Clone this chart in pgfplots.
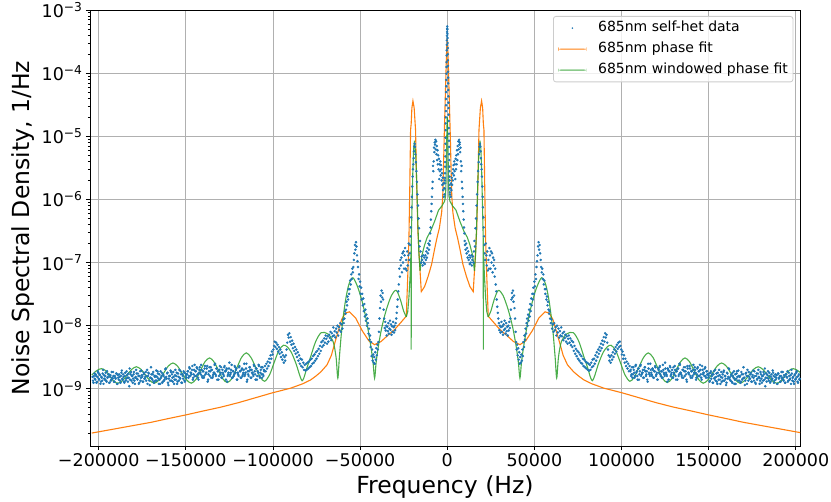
\documentclass[border=0pt]{standalone}
\usepackage{fontspec}
\setmainfont{DejaVu Sans}
\usepackage{pgfplots}
\pgfplotsset{compat=1.18}
\usepackage{pgfplotstable}
\definecolor{tabblue}{HTML}{1F77B4}
\definecolor{taborange}{HTML}{FF7F0E}
\definecolor{tabgreen}{HTML}{2CA02C}

% central spike of the data (both signs)
\pgfplotstableread{
f v
-1500 1.5e-6
-1450 1.8e-6
-1400 2.0e-6
-1350 2.2e-6
-1300 2.6e-6
-1250 3.3e-6
-1200 3.9e-6
-1150 4.8e-6
-1100 6.0e-6
-1050 7.6e-6
-1000 9.5e-6
-950 1.25e-5
-900 1.6e-5
-850 2.0e-5
-800 2.5e-5
-750 3.1e-5
-700 3.9e-5
-650 5.0e-5
-600 6.2e-5
-550 7.8e-5
-500 9.8e-5
-450 1.25e-4
-400 1.5e-4
-350 1.9e-4
-300 2.3e-4
-250 2.8e-4
-200 3.3e-4
-150 3.9e-4
-100 4.5e-4
-50 5.1e-4
0 5.5e-4
50 4.9e-4
100 4.2e-4
150 3.6e-4
200 3.0e-4
250 2.5e-4
300 2.0e-4
350 1.6e-4
400 1.3e-4
450 1.05e-4
500 8.5e-5
550 6.9e-5
600 5.4e-5
650 4.3e-5
700 3.4e-5
750 2.8e-5
800 2.2e-5
850 1.75e-5
900 1.35e-5
950 1.1e-5
1000 8.5e-6
1050 6.8e-6
1100 5.2e-6
1150 4.2e-6
1200 3.3e-6
1250 2.8e-6
1300 2.3e-6
1350 2.0e-6
1400 1.7e-6
1450 1.5e-6
1500 1.3e-6
}\cen

% data away from the centre (positive side, mirrored for negative side)
\pgfplotstableread{
f v
1600 1.2e-6
1800 1.5e-6
2000 1.1e-6
2200 1.8e-6
2400 1.4e-6
2600 2.2e-6
2800 1.7e-6
3000 2.6e-6
3200 2.0e-6
3400 3.0e-6
3600 3.5e-6
3800 2.4e-6
4000 4.0e-6
4200 2.8e-6
4400 3.6e-6
4600 2.1e-6
4800 4.4e-6
5000 3.0e-6
5200 5.0e-6
5400 3.6e-6
5600 6.0e-6
5800 4.2e-6
6000 7.0e-6
6200 5.2e-6
6400 8.3e-6
6600 6.2e-6
6800 8.8e-6
7000 7.4e-6
7200 8.0e-6
7400 5.6e-6
7600 6.6e-6
7800 4.0e-6
8000 2.8e-6
8200 3.4e-6
8400 1.9e-6
8600 1.5e-6
8800 1.1e-6
9000 8.5e-7
9200 6.5e-7
9400 4.8e-7
9600 3.6e-7
9800 2.9e-7
10000 2.2e-7
10200 1.9e-7
10500 1.6e-7
10800 2.0e-7
11100 1.4e-7
11400 1.7e-7
11700 1.2e-7
12000 1.5e-7
12300 1.1e-7
12600 1.3e-7
12900 9.5e-8
13200 1.2e-7
13500 1.0e-7
13800 1.3e-7
14100 9.0e-8
14400 1.1e-7
14700 1.25e-7
15000 1.0e-7
15300 1.5e-7
15600 2.2e-7
15900 1.8e-7
16200 3.5e-7
16500 5.0e-7
16800 8.0e-7
17100 1.2e-6
17400 1.9e-6
17700 2.8e-6
18000 3.9e-6
18300 5.2e-6
18500 6.8e-6
18700 7.6e-6
18900 6.9e-6
19100 5.8e-6
19300 4.5e-6
19500 3.6e-6
19700 3.0e-6
19900 2.3e-6
20100 1.6e-6
20300 1.1e-6
20500 7.5e-7
20700 5.2e-7
20900 3.6e-7
21100 2.6e-7
21300 1.9e-7
21500 1.4e-7
21800 1.1e-7
22100 2.0e-7
22400 1.3e-7
22700 9.0e-8
23000 1.5e-7
23300 7.5e-8
23600 1.1e-7
23900 8.0e-8
24200 1.7e-7
24500 1.3e-7
24800 8.0e-8
25100 1.5e-7
25400 1.0e-7
25700 1.4e-7
26000 7.0e-8
26300 1.2e-7
26600 9.0e-8
26900 1.1e-7
27200 6.0e-8
27500 8.0e-8
27800 4.5e-8
28100 3.5e-8
28400 2.6e-8
28700 2.0e-8
29000 1.6e-8
29300 1.3e-8
29600 1.1e-8
29900 8.5e-9
30200 1.0e-8
30500 7.8e-9
30800 9.5e-9
31100 1.15e-8
31400 8.0e-9
31700 9.8e-9
32000 7.2e-9
32300 1.05e-8
32600 8.6e-9
32900 1.2e-8
33200 9.0e-9
33500 7.5e-9
33800 1.1e-8
34100 8.2e-9
34400 9.6e-9
34700 7.0e-9
35000 1.0e-8
35300 8.4e-9
35600 1.15e-8
35900 9.2e-9
36200 1.3e-8
36500 1.8e-8
36800 2.6e-8
37100 3.3e-8
37400 2.8e-8
37700 3.6e-8
38000 2.4e-8
38300 3.0e-8
38600 1.9e-8
38900 1.3e-8
39200 8.0e-9
39500 5.5e-9
39800 4.2e-9
40100 5.0e-9
40400 3.4e-9
40700 4.4e-9
41000 2.9e-9
41300 3.8e-9
41600 2.5e-9
41900 3.2e-9
42200 2.6e-9
42500 3.5e-9
42800 2.8e-9
43100 4.2e-9
43400 3.3e-9
43700 5.5e-9
44000 4.6e-9
44300 7.0e-9
44600 6.0e-9
44900 9.0e-9
45200 7.5e-9
45500 1.1e-8
45800 1.3e-8
46100 1.0e-8
46400 1.5e-8
46700 1.2e-8
47000 1.8e-8
47300 1.4e-8
47600 2.2e-8
47900 1.7e-8
48200 2.7e-8
48500 2.1e-8
48800 3.2e-8
49100 2.6e-8
49400 4.0e-8
49700 3.2e-8
50000 5.0e-8
50300 4.2e-8
50600 6.5e-8
50900 5.5e-8
51200 8.5e-8
51500 1.05e-7
51800 1.3e-7
52100 1.8e-7
52400 2.1e-7
52700 1.6e-7
53000 1.9e-7
53300 1.4e-7
53600 1.1e-7
53900 8.5e-8
54200 7.0e-8
54500 8.0e-8
54800 5.5e-8
55100 6.5e-8
55400 4.5e-8
55700 5.2e-8
56000 3.8e-8
56300 3.2e-8
56600 3.8e-8
56900 2.6e-8
57200 2.9e-8
57500 2.1e-8
57800 2.4e-8
58100 1.8e-8
58400 1.55e-8
58700 1.7e-8
59000 1.3e-8
59400 1.1e-8
59800 1.25e-8
60200 9.0e-9
60600 1.05e-8
61000 8.0e-9
61400 1.1e-8
61800 8.5e-9
62200 9.5e-9
62600 7.0e-9
63000 1.0e-8
63400 7.8e-9
63800 9.0e-9
64200 6.5e-9
64600 8.2e-9
65000 7.0e-9
65400 9.4e-9
65800 6.8e-9
66200 7.6e-9
66600 5.9e-9
67000 8.0e-9
67400 6.4e-9
67800 7.2e-9
68200 5.6e-9
68600 6.8e-9
69000 5.2e-9
69400 6.2e-9
69800 7.0e-9
70200 5.4e-9
70600 6.3e-9
71000 4.9e-9
71400 5.8e-9
71800 4.6e-9
72200 5.5e-9
72600 4.0e-9
73000 4.8e-9
73400 3.6e-9
73800 4.3e-9
74200 3.3e-9
74600 4.0e-9
75000 3.0e-9
75400 3.8e-9
75800 2.8e-9
76200 3.5e-9
76600 2.6e-9
77000 3.3e-9
77400 2.5e-9
77800 3.0e-9
78200 2.3e-9
78600 2.9e-9
79000 2.2e-9
79400 2.7e-9
79800 2.1e-9
80200 2.6e-9
80600 2.0e-9
81000 2.5e-9
81400 1.95e-9
81800 2.4e-9
82200 2.0e-9
82600 2.6e-9
83000 2.2e-9
83400 2.9e-9
83800 2.3e-9
84200 3.0e-9
84600 2.5e-9
85000 3.4e-9
85400 2.8e-9
85800 3.8e-9
86200 3.2e-9
86600 4.2e-9
87000 3.6e-9
87400 4.6e-9
87800 4.0e-9
88200 5.2e-9
88600 4.4e-9
89000 5.8e-9
89400 5.0e-9
89800 6.6e-9
90200 5.6e-9
90600 7.6e-9
91000 6.5e-9
91400 7.2e-9
91800 5.4e-9
92200 4.2e-9
92600 3.4e-9
93000 2.8e-9
93400 3.2e-9
93800 2.6e-9
94200 3.4e-9
94600 2.9e-9
95000 3.8e-9
95400 3.2e-9
95800 4.2e-9
96200 3.6e-9
96600 4.6e-9
97000 3.9e-9
97400 5.0e-9
97800 4.3e-9
98200 5.4e-9
98600 4.6e-9
99000 5.6e-9
99400 4.8e-9
99800 4.2e-9
100200 3.5e-9
100600 3.9e-9
101000 3.0e-9
101400 3.4e-9
101800 2.6e-9
102200 3.0e-9
102600 2.3e-9
103000 2.7e-9
103400 2.1e-9
103800 2.5e-9
104200 1.9e-9
104600 2.3e-9
105000 1.9e-9
105500 1.6e-9
106000 2.2e-9
106500 1.7e-9
107000 2.0e-9
107500 1.5e-9
108000 2.3e-9
108500 1.8e-9
109000 1.6e-9
109500 2.1e-9
110000 1.4e-9
110500 1.9e-9
111000 2.4e-9
111500 1.7e-9
112000 1.8e-9
112500 1.5e-9
113000 2.0e-9
113500 2.2e-9
114000 1.6e-9
114500 1.9e-9
115000 1.3e-9
115500 2.1e-9
116000 1.7e-9
116500 2.5e-9
117000 1.8e-9
117500 1.6e-9
118000 2.0e-9
118500 1.5e-9
119000 1.9e-9
119500 2.2e-9
120000 1.7e-9
120500 1.4e-9
121000 2.1e-9
121500 1.8e-9
122000 2.3e-9
122500 1.6e-9
123000 1.9e-9
123500 1.5e-9
124000 2.0e-9
124500 1.7e-9
125000 2.6e-9
125500 1.8e-9
126000 1.6e-9
126500 2.1e-9
127000 1.4e-9
127500 1.9e-9
128000 2.2e-9
128500 1.7e-9
129000 2.0e-9
129500 1.5e-9
130000 1.8e-9
130500 2.3e-9
131000 1.6e-9
131500 1.9e-9
132000 1.4e-9
132500 2.1e-9
133000 1.7e-9
133500 2.4e-9
134000 1.8e-9
134500 1.6e-9
135000 2.0e-9
135500 1.5e-9
136000 1.9e-9
136500 2.2e-9
137000 1.7e-9
137500 1.3e-9
138000 2.1e-9
138500 1.8e-9
139000 2.3e-9
139500 1.6e-9
140000 1.9e-9
140500 1.5e-9
141000 2.0e-9
141500 1.7e-9
142000 2.2e-9
142500 1.8e-9
143000 1.5e-9
143500 2.1e-9
144000 1.6e-9
144500 1.9e-9
145000 2.4e-9
145500 1.7e-9
146000 1.4e-9
146500 2.0e-9
147000 1.8e-9
147500 1.6e-9
148000 2.2e-9
148500 1.5e-9
149000 1.9e-9
149500 1.7e-9
150000 1.6e-9
150500 1.3e-9
151000 1.8e-9
151500 1.45e-9
152000 1.7e-9
152500 1.25e-9
153000 1.9e-9
153500 1.5e-9
154000 1.35e-9
154500 1.75e-9
155000 1.2e-9
155500 1.6e-9
156000 2.0e-9
156500 1.4e-9
157000 1.55e-9
157500 1.3e-9
158000 1.7e-9
158500 1.85e-9
159000 1.35e-9
159500 1.6e-9
160000 1.15e-9
160500 1.8e-9
161000 1.45e-9
161500 2.1e-9
162000 1.5e-9
162500 1.35e-9
163000 1.7e-9
163500 1.25e-9
164000 1.6e-9
164500 1.9e-9
165000 1.4e-9
165500 1.2e-9
166000 1.75e-9
166500 1.55e-9
167000 1.95e-9
167500 1.35e-9
168000 1.6e-9
168500 1.3e-9
169000 1.7e-9
169500 1.45e-9
170000 2.2e-9
170500 1.5e-9
171000 1.35e-9
171500 1.8e-9
172000 1.2e-9
172500 1.6e-9
173000 1.85e-9
173500 1.45e-9
174000 1.7e-9
174500 1.3e-9
175000 1.55e-9
175500 1.95e-9
176000 1.35e-9
176500 1.6e-9
177000 1.2e-9
177500 1.75e-9
178000 1.45e-9
178500 2.0e-9
179000 1.5e-9
179500 1.35e-9
180000 1.7e-9
180500 1.25e-9
181000 1.6e-9
181500 1.85e-9
182000 1.4e-9
182500 1.1e-9
183000 1.75e-9
183500 1.5e-9
184000 1.9e-9
184500 1.35e-9
185000 1.6e-9
185500 1.3e-9
186000 1.7e-9
186500 1.45e-9
187000 1.8e-9
187500 1.25e-9
188000 1.55e-9
188500 1.4e-9
189000 1.65e-9
189500 1.2e-9
190000 1.75e-9
190500 1.5e-9
191000 1.3e-9
191500 1.6e-9
192000 1.45e-9
192500 1.85e-9
193000 1.35e-9
193500 1.55e-9
194000 1.25e-9
194500 1.7e-9
195000 1.5e-9
195500 1.3e-9
196000 1.8e-9
196500 1.4e-9
197000 1.65e-9
197500 2.0e-9
198000 1.35e-9
198500 1.55e-9
199000 1.2e-9
199500 1.7e-9
200000 1.45e-9
200500 1.9e-9
201000 1.3e-9
201500 1.6e-9
202000 1.4e-9
202500 1.75e-9
203000 1.25e-9
203500 1.55e-9
}\sid

% more bins of the broad floor (positive side, mirrored)
\pgfplotstableread{
f v
105250 2.0e-9
105750 1.7e-9
106250 1.5e-9
106750 2.2e-9
107250 1.8e-9
107750 1.6e-9
108250 2.4e-9
108750 1.9e-9
109250 1.4e-9
109750 2.1e-9
110250 1.7e-9
110750 2.3e-9
111250 1.6e-9
111750 1.8e-9
112250 2.0e-9
112750 1.5e-9
113250 2.2e-9
113750 1.9e-9
114250 1.7e-9
114750 1.4e-9
115250 2.5e-9
115750 1.8e-9
116250 1.6e-9
116750 2.0e-9
117250 1.7e-9
117750 2.1e-9
118250 1.5e-9
118750 1.9e-9
119250 2.3e-9
119750 1.6e-9
120250 1.8e-9
120750 1.4e-9
121250 2.0e-9
121750 2.2e-9
122250 1.7e-9
122750 1.9e-9
123250 1.5e-9
123750 2.4e-9
124250 1.8e-9
124750 1.6e-9
125250 2.1e-9
125750 1.7e-9
126250 1.3e-9
126750 2.0e-9
127250 1.9e-9
127750 2.3e-9
128250 1.6e-9
128750 1.8e-9
129250 1.5e-9
129750 2.2e-9
130250 1.7e-9
130750 2.0e-9
131250 1.4e-9
131750 1.9e-9
132250 2.1e-9
132750 1.6e-9
133250 2.5e-9
133750 1.8e-9
134250 1.7e-9
134750 1.5e-9
135250 2.0e-9
135750 2.2e-9
136250 1.6e-9
136750 1.9e-9
137250 1.4e-9
137750 2.3e-9
138250 1.8e-9
138750 1.7e-9
139250 2.1e-9
139750 1.5e-9
140250 1.9e-9
140750 1.6e-9
141250 2.4e-9
141750 1.8e-9
142250 2.0e-9
142750 1.4e-9
143250 1.7e-9
143750 2.2e-9
144250 1.9e-9
144750 1.6e-9
145250 2.0e-9
145750 1.5e-9
146250 2.3e-9
146750 1.7e-9
147250 1.8e-9
147750 2.1e-9
148250 1.6e-9
148750 1.9e-9
149250 1.7e-9
149750 1.5e-9
150250 1.75e-9
150750 1.35e-9
151250 1.9e-9
151750 1.6e-9
152250 1.25e-9
152750 1.7e-9
153250 1.45e-9
153750 2.0e-9
154250 1.55e-9
154750 1.3e-9
155250 1.8e-9
155750 1.4e-9
156250 1.65e-9
156750 1.2e-9
157250 1.85e-9
157750 1.5e-9
158250 1.35e-9
158750 1.95e-9
159250 1.6e-9
159750 1.45e-9
160250 1.25e-9
160750 1.75e-9
161250 1.55e-9
161750 2.05e-9
162250 1.4e-9
162750 1.6e-9
163250 1.3e-9
163750 1.8e-9
164250 1.5e-9
164750 1.2e-9
165250 1.7e-9
165750 1.45e-9
166250 1.9e-9
166750 1.35e-9
167250 1.6e-9
167750 1.55e-9
168250 1.25e-9
168750 1.85e-9
169250 1.4e-9
169750 1.7e-9
170250 1.5e-9
170750 1.15e-9
171250 1.75e-9
171750 1.6e-9
172250 2.0e-9
172750 1.35e-9
173250 1.55e-9
173750 1.45e-9
174250 1.8e-9
174750 1.3e-9
175250 1.65e-9
175750 1.5e-9
176250 1.9e-9
176750 1.25e-9
177250 1.6e-9
177750 1.4e-9
178250 1.75e-9
178750 1.55e-9
179250 1.2e-9
179750 1.85e-9
180250 1.45e-9
180750 1.6e-9
181250 1.35e-9
181750 1.7e-9
182250 2.1e-9
182750 1.5e-9
183250 1.3e-9
183750 1.65e-9
184250 1.45e-9
184750 1.8e-9
185250 1.25e-9
185750 1.55e-9
186250 1.4e-9
186750 1.95e-9
187250 1.6e-9
187750 1.35e-9
188250 1.7e-9
188750 1.5e-9
189250 1.2e-9
189750 1.75e-9
190250 1.45e-9
190750 1.6e-9
191250 1.3e-9
191750 1.85e-9
192250 1.5e-9
192750 1.4e-9
193250 1.65e-9
193750 1.25e-9
194250 1.7e-9
194750 1.55e-9
195250 1.9e-9
195750 1.35e-9
196250 1.6e-9
196750 1.45e-9
197250 1.2e-9
197750 1.75e-9
198250 1.5e-9
198750 1.3e-9
199250 1.65e-9
199750 1.4e-9
200250 1.8e-9
200750 1.55e-9
201250 1.25e-9
201750 1.7e-9
202250 1.45e-9
202750 1.6e-9
203250 1.35e-9
}\flo

% phase fit (positive side)
\pgfplotstableread{
f v
0 3.548e-4
250 2.818e-4
500 1.778e-4
800 8.913e-5
1100 4.467e-5
1400 2.239e-5
1700 1.122e-5
2000 5.012e-6
2300 2.239e-6
2600 1.122e-6
3200 6.310e-7
4500 3.548e-7
6000 2.399e-7
7300 1.622e-7
9000 9.333e-8
11000 6.026e-8
13000 4.169e-8
14900 3.467e-8
15900 1.0e-7
16900 3.311e-7
17600 1.995e-6
18200 1.259e-5
19000 2.818e-5
19700 3.631e-5
20300 2.818e-5
20700 1.585e-5
21050 1.259e-5
21500 1.585e-6
22000 2.344e-7
22600 6.918e-8
23500 1.413e-8
24500 1.318e-8
27000 1.096e-8
30200 8.710e-9
34000 7.079e-9
38000 5.623e-9
41700 5.012e-9
45000 5.754e-9
49000 8.511e-9
52500 1.318e-8
56100 1.660e-8
58500 1.585e-8
60600 1.259e-8
62500 8.318e-9
64500 5.370e-9
66500 3.388e-9
69000 2.399e-9
72500 1.862e-9
75500 1.585e-9
78500 1.380e-9
83000 1.202e-9
90000 1.023e-9
100000 8.710e-10
110000 7.244e-10
120000 6.026e-10
130000 5.129e-10
140000 4.467e-10
149600 3.890e-10
160000 3.388e-10
170000 2.951e-10
180000 2.630e-10
190000 2.344e-10
204000 1.995e-10
}\orp

% windowed phase fit, central part (positive side)
\pgfplotstableread{
f v
0 1.995e-5
250 1.122e-5
500 4.467e-6
750 1.778e-6
1000 1.122e-6
1550 9.333e-7
3000 7.943e-7
5000 6.761e-7
7300 4.467e-7
9500 3.162e-7
11500 2.512e-7
13000 1.905e-7
14500 1.318e-7
15600 7.413e-8
16300 1.413e-7
16900 4.467e-7
17500 1.778e-6
18100 5.012e-6
18800 8.511e-6
19300 6.310e-6
19800 2.512e-6
20300 6.310e-7
20650 2.239e-7
20700 4.169e-9
20750 1.585e-7
21300 6.310e-8
22000 2.818e-8
22700 1.660e-8
23500 1.380e-8
}\grc

% windowed phase fit, outer part (positive side)
\pgfplotstableread{
f v
23500 1.380e-8
25000 1.698e-8
27000 2.630e-8
29300 3.631e-8
32000 3.020e-8
35000 1.778e-8
37500 9.550e-9
39500 4.786e-9
40800 2.630e-9
41700 1.479e-9
42600 2.630e-9
44000 5.012e-9
46500 1.259e-8
49000 2.512e-8
51500 4.169e-8
54200 5.754e-8
56500 4.467e-8
58500 2.399e-8
60500 8.913e-9
61900 3.162e-9
62800 1.479e-9
63800 3.162e-9
65500 5.623e-9
68500 7.413e-9
72300 7.762e-9
75500 5.623e-9
78500 3.162e-9
80700 2.089e-9
82200 1.514e-9
83300 1.349e-9
84500 1.585e-9
86800 2.512e-9
89500 3.802e-9
92000 4.677e-9
94000 4.898e-9
96600 4.074e-9
99300 2.630e-9
102000 1.660e-9
104800 1.318e-9
107400 1.549e-9
110000 2.213e-9
112700 3.162e-9
115300 3.715e-9
118000 3.162e-9
120700 2.163e-9
123400 1.479e-9
126200 1.259e-9
128800 1.445e-9
131300 1.972e-9
133900 2.692e-9
136400 3.090e-9
139000 2.692e-9
141600 1.950e-9
144200 1.413e-9
146900 1.230e-9
149500 1.380e-9
152200 1.778e-9
154800 2.291e-9
157400 2.570e-9
160100 2.291e-9
162700 1.778e-9
165400 1.380e-9
168000 1.230e-9
170600 1.349e-9
173200 1.660e-9
175800 2.042e-9
178400 2.239e-9
181000 2.042e-9
183700 1.660e-9
186300 1.349e-9
189000 1.230e-9
191400 1.318e-9
193700 1.603e-9
196100 1.950e-9
198500 2.089e-9
201100 1.950e-9
204000 1.660e-9
}\grf

\begin{document}
\begin{tikzpicture}
\begin{axis}[
  at={(0pt,0pt)}, anchor=south west,
  scale only axis, width=710pt, height=436pt,
  xmin=-205000, xmax=202400,
  ymode=log, ymin=1.245e-10, ymax=1e-3,
  xtick={-200000,-150000,-100000,-50000,0,50000,100000,150000,200000},
  xticklabels={−200000,−150000,−100000,−50000,0,50000,100000,150000,200000},
  ytick={1e-9,1e-8,1e-7,1e-6,1e-5,1e-4,1e-3},
  yticklabels={10\textsuperscript{−9},10\textsuperscript{−8},10\textsuperscript{−7},10\textsuperscript{−6},10\textsuperscript{−5},10\textsuperscript{−4},10\textsuperscript{−3}},
  minor ytick={2e-10,3e-10,4e-10,5e-10,6e-10,7e-10,8e-10,9e-10,
    2e-9,3e-9,4e-9,5e-9,6e-9,7e-9,8e-9,9e-9,
    2e-8,3e-8,4e-8,5e-8,6e-8,7e-8,8e-8,9e-8,
    2e-7,3e-7,4e-7,5e-7,6e-7,7e-7,8e-7,9e-7,
    2e-6,3e-6,4e-6,5e-6,6e-6,7e-6,8e-6,9e-6,
    2e-5,3e-5,4e-5,5e-5,6e-5,7e-5,8e-5,9e-5,
    2e-4,3e-4,4e-4,5e-4,6e-4,7e-4,8e-4,9e-4},
  scaled x ticks=false,
  grid=major,
  major grid style={color=black!31, line width=0.8pt},
  axis line style={line width=0.8pt},
  tick style={color=black, line width=0.8pt},
  major tick length=4pt, minor tick length=2pt,
  tick align=outside, tick pos=left,
  ticklabel style={font=\fontsize{17.5}{21}\selectfont},
  xlabel={Frequency (Hz)},
  ylabel={Noise Spectral Density, 1/Hz},
  label style={font=\fontsize{23.5}{28}\selectfont},
  xlabel style={at={(axis description cs:0.5,-0.1078)}, anchor=base},
  ylabel style={at={(axis description cs:-0.0944,0.5)}, anchor=center},
  legend style={
    at={(axis description cs:1,1)}, anchor=north east,
    xshift=-6.7pt, yshift=-6pt,
    draw=black!20, line width=0.8pt, rounded corners=2.5pt,
    fill=white, fill opacity=0.8, text opacity=1,
    inner xsep=5pt, inner ysep=5pt,
    font=\fontsize{14}{16}\selectfont,
    row sep=7.5pt,
    nodes={inner sep=0pt, text height=10.5pt, text depth=3pt},
    /tikz/every odd column/.append style={column sep=11.7pt},
  },
  legend cell align=left,
]
\addplot[color=tabblue, only marks, mark=*, mark size=1.05pt, mark options={draw=none, fill=tabblue},
  legend image code/.code={\fill[fill=tabblue, draw=none, fill opacity=1] (14pt,0pt) circle (0.9pt);}]
  table[x=f, y=v] {\sid};
\addlegendentry{685nm self-het data}
\addplot[forget plot, color=tabblue, only marks, mark=*, mark size=1.05pt, mark options={draw=none, fill=tabblue}]
  table[x expr=-\thisrow{f}, y=v] {\sid};
\addplot[forget plot, color=tabblue, only marks, mark=*, mark size=1.05pt, mark options={draw=none, fill=tabblue}]
  table[x=f, y=v] {\flo};
\addplot[forget plot, color=tabblue, only marks, mark=*, mark size=1.05pt, mark options={draw=none, fill=tabblue}]
  table[x expr=-\thisrow{f}, y=v] {\flo};
\addplot[forget plot, color=tabblue, only marks, mark=*, mark size=1.05pt, mark options={draw=none, fill=tabblue}]
  table[x=f, y=v] {\cen};

\addplot[color=taborange, line width=1.1pt, no markers,
  legend image code/.code={\fill[fill=taborange, draw=none, fill opacity=1] (0pt,-0.6pt) rectangle (28pt,0.6pt);}]
  table[x=f, y=v] {\orp};
\addlegendentry{685nm phase fit}
\addplot[forget plot, color=taborange, line width=1.1pt, no markers]
  table[x expr=-\thisrow{f}, y=v] {\orp};

\addplot[color=tabgreen, draw opacity=0.85, line width=1.1pt, no markers,
  legend image code/.code={\fill[fill=tabgreen, draw=none, fill opacity=0.55] (0pt,-0.8pt) rectangle (28pt,0.8pt);}]
  table[x=f, y=v] {\grc};
\addlegendentry{685nm windowed phase fit}
\addplot[forget plot, color=tabgreen, draw opacity=0.85, line width=1.1pt, no markers]
  table[x expr=-\thisrow{f}, y=v] {\grc};
\addplot[forget plot, color=tabgreen, draw opacity=0.85, line width=1.1pt, no markers, smooth, tension=0.5]
  table[x=f, y=v] {\grf};
\addplot[forget plot, color=tabgreen, draw opacity=0.85, line width=1.1pt, no markers, smooth, tension=0.5]
  table[x expr=-\thisrow{f}, y=v] {\grf};
\end{axis}
\pgfresetboundingbox
\path[use as bounding box] (-90pt,-56pt) rectangle (741pt,446pt);
\end{tikzpicture}
\end{document}
